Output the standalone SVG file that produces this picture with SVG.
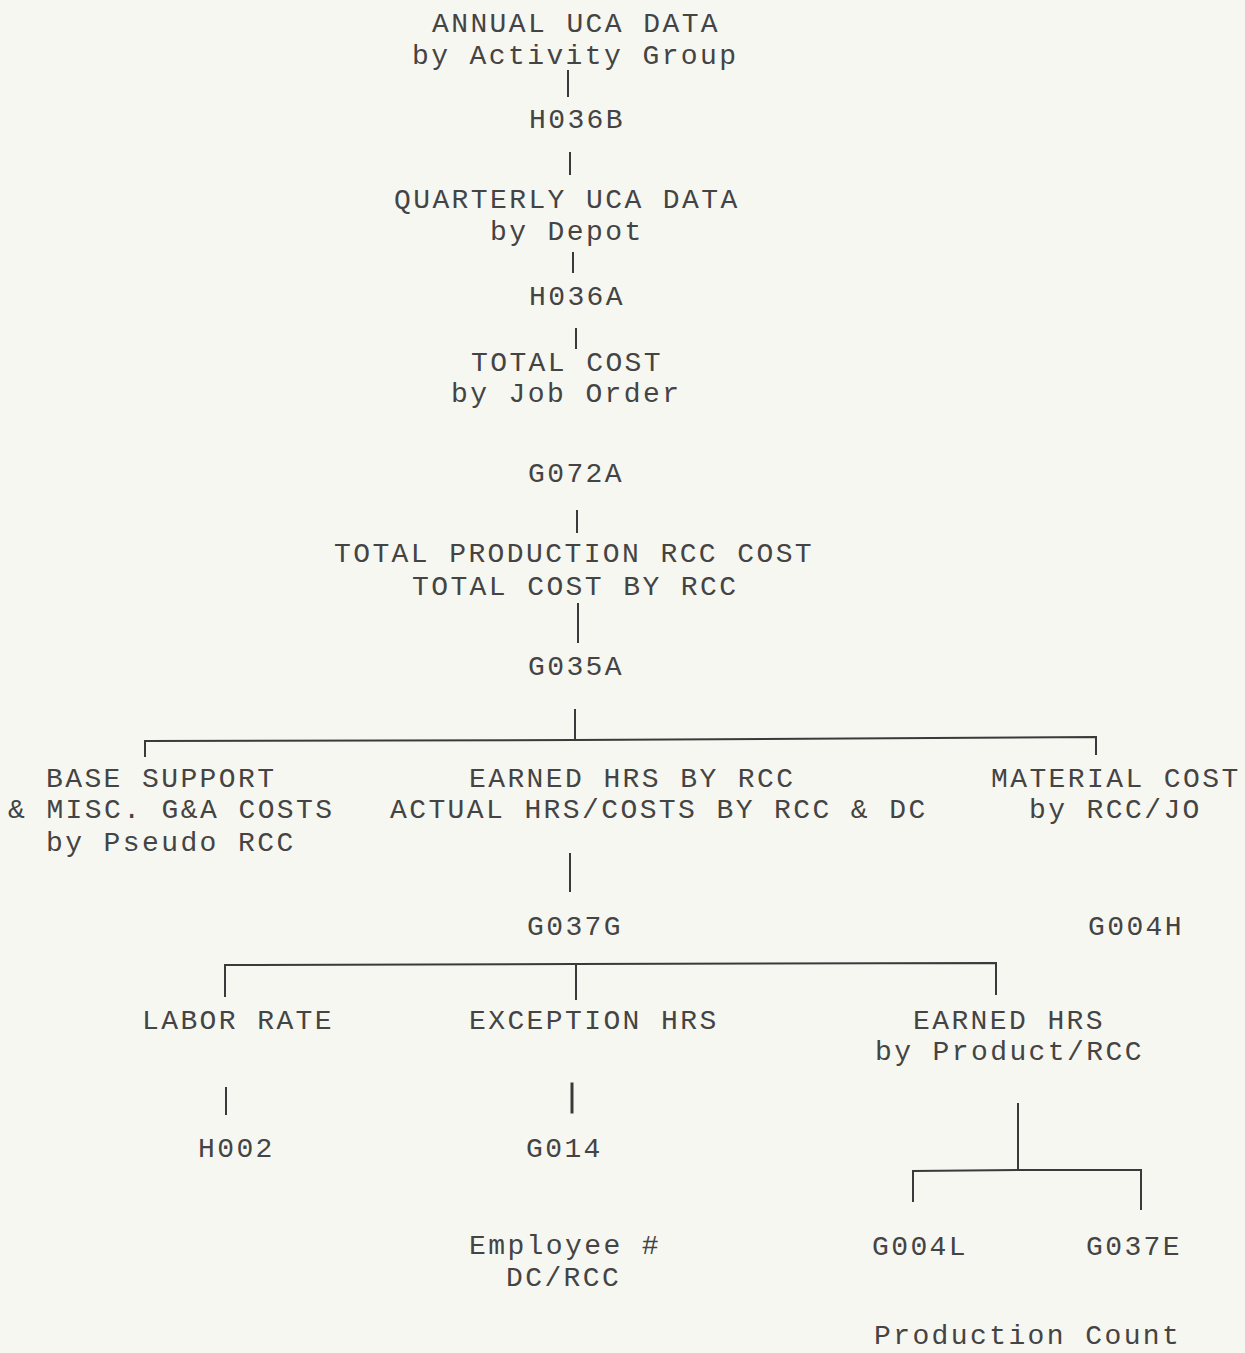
<svg xmlns="http://www.w3.org/2000/svg" width="1245" height="1353" viewBox="0 0 1245 1353">
<style>
text{font-family:"Liberation Mono","Courier New",monospace;font-size:28px;letter-spacing:2.4px;fill:#444}
.c line{stroke:#3a3a3a;stroke-width:2;stroke-linecap:square;fill:none}
.c polyline{stroke:#3a3a3a;stroke-width:2;fill:none}
</style>
<rect width="1245" height="1353" fill="#f7f7f1"/>
<g class="c" id="connectors">
<line x1="568" y1="71" x2="568" y2="96"/>
<line x1="570" y1="153" x2="570" y2="174"/>
<line x1="573" y1="253" x2="573" y2="272"/>
<line x1="576" y1="329" x2="576" y2="348"/>
<line x1="577" y1="511" x2="577" y2="532"/>
<line x1="578" y1="604" x2="578" y2="642"/>
<line x1="575" y1="710" x2="575" y2="740"/>
<polyline points="145,757 145,741 575,740 1096,737 1096,755"/>
<line x1="570" y1="854" x2="570" y2="891"/>
<polyline points="225,997 225,965 575,964 996,963 996,995"/>
<line x1="576" y1="964" x2="576" y2="999"/>
<line x1="226" y1="1088" x2="226" y2="1114"/>
<line x1="572" y1="1084" x2="572" y2="1112" style="stroke-width:3"/>
<line x1="1018" y1="1104" x2="1018" y2="1170"/>
<polyline points="913,1202 913,1171 1018,1170 1141,1170 1141,1210"/>
</g>
<g id="n1"><text x="432" y="32">ANNUAL UCA DATA</text><text x="412" y="64">by Activity Group</text></g>
<g id="n2"><text x="529" y="128">H036B</text></g>
<g id="n3"><text x="394" y="208">QUARTERLY UCA DATA</text><text x="490" y="240">by Depot</text></g>
<g id="n4"><text x="529" y="305">H036A</text></g>
<g id="n5"><text x="471" y="371">TOTAL COST</text><text x="451" y="402">by Job Order</text></g>
<g id="n6"><text x="528" y="482">G072A</text></g>
<g id="n7"><text x="334" y="562">TOTAL PRODUCTION RCC COST</text><text x="412" y="595">TOTAL COST BY RCC</text></g>
<g id="n8"><text x="528" y="675">G035A</text></g>
<g id="n9"><text x="46" y="787">BASE SUPPORT</text><text x="8" y="818">&amp; MISC. G&amp;A COSTS</text><text x="46" y="851">by Pseudo RCC</text></g>
<g id="n10"><text x="469" y="787">EARNED HRS BY RCC</text><text x="390" y="818">ACTUAL HRS/COSTS BY RCC &amp; DC</text></g>
<g id="n11"><text x="991" y="787">MATERIAL COST</text><text x="1029" y="818">by RCC/JO</text></g>
<g id="n12"><text x="527" y="935">G037G</text></g>
<g id="n13"><text x="1088" y="935">G004H</text></g>
<g id="n14"><text x="142" y="1029">LABOR RATE</text></g>
<g id="n15"><text x="469" y="1029">EXCEPTION HRS</text></g>
<g id="n16"><text x="913" y="1029">EARNED HRS</text><text x="875" y="1060">by Product/RCC</text></g>
<g id="n17"><text x="198" y="1157">H002</text></g>
<g id="n18"><text x="526" y="1157">G014</text></g>
<g id="n19"><text x="469" y="1254">Employee #</text><text x="506" y="1286">DC/RCC</text></g>
<g id="n20"><text x="872" y="1255">G004L</text></g>
<g id="n21"><text x="1086" y="1255">G037E</text></g>
<g id="n22"><text x="874" y="1344">Production Count</text></g>
</svg>
